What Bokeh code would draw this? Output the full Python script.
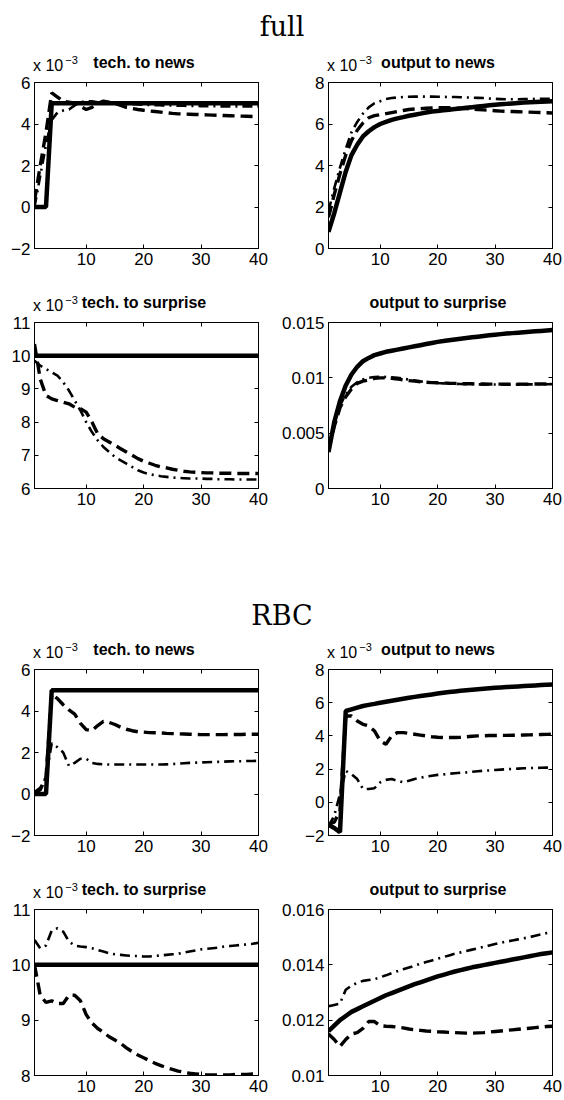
import numpy as np
from bokeh.plotting import figure
from bokeh.models import Range1d, FixedTicker, LinearAxis, CustomJSTickFormatter, Div
from bokeh.layouts import column, row
from bokeh.embed import file_html
from bokeh.resources import INLINE

steps = list(range(1, 41))
xticks = [10, 20, 30, 40]

# ---------------- full model ----------------
full_tech_news_solid = [0, 0, 0, 5, 5, 5, 5, 5, 5, 5, 5, 5, 5, 5, 5, 5, 5, 5, 5, 5,
                        5, 5, 5, 5, 5, 5, 5, 5, 5, 5, 5, 5, 5, 5, 5, 5, 5, 5, 5, 5]
full_tech_news_dash = [0.3, 2.0, 3.6, 5.5, 5.3, 5.1, 5.05, 5.0, 4.85, 4.7, 4.8, 5.0, 5.1, 5.05, 5.0, 4.9, 4.8, 4.75, 4.7, 4.66,
                       4.63, 4.6, 4.57, 4.54, 4.51, 4.49, 4.48, 4.47, 4.46, 4.45, 4.44, 4.43, 4.42, 4.41, 4.4, 4.39, 4.38, 4.37, 4.36, 4.35]
full_tech_news_dashdot = [0.0, 1.5, 3.0, 4.2, 4.55, 4.65, 4.7, 4.9, 5.05, 5.1, 5.1, 5.05, 5.05, 5.0, 5.0, 4.98, 4.96, 4.95, 4.94, 4.93,
                          4.92, 4.91, 4.9, 4.9, 4.89, 4.88, 4.88, 4.87, 4.87, 4.86, 4.86, 4.86, 4.85, 4.85, 4.85, 4.85, 4.85, 4.85, 4.85, 4.85]

full_out_news_solid = [0.8, 1.7, 2.7, 3.7, 4.5, 5.0, 5.4, 5.65, 5.85, 6.0, 6.1, 6.2, 6.27, 6.33, 6.4, 6.45, 6.5, 6.55, 6.6, 6.63,
                       6.66, 6.69, 6.72, 6.75, 6.78, 6.81, 6.84, 6.87, 6.9, 6.93, 6.95, 6.97, 6.99, 7.01, 7.03, 7.05, 7.06, 7.07, 7.08, 7.1]
full_out_news_dash = [1.5, 2.6, 3.6, 4.5, 5.2, 5.7, 6.05, 6.3, 6.4, 6.45, 6.5, 6.55, 6.6, 6.65, 6.7, 6.72, 6.74, 6.76, 6.77, 6.78,
                      6.78, 6.78, 6.77, 6.76, 6.74, 6.72, 6.7, 6.68, 6.66, 6.64, 6.62, 6.61, 6.6, 6.59, 6.58, 6.57, 6.56, 6.55, 6.54, 6.53]
full_out_news_dashdot = [1.8, 2.9, 3.9, 4.8, 5.6, 6.1, 6.5, 6.8, 7.0, 7.1, 7.2, 7.25, 7.28, 7.3, 7.31, 7.32, 7.32, 7.32, 7.32, 7.31,
                         7.31, 7.3, 7.3, 7.29, 7.28, 7.27, 7.26, 7.25, 7.23, 7.21, 7.2, 7.19, 7.19, 7.19, 7.2, 7.2, 7.21, 7.21, 7.22, 7.22]

full_tech_surp_solid = [10, 10, 10, 10, 10, 10, 10, 10, 10, 10, 10, 10, 10, 10, 10, 10, 10, 10, 10, 10,
                        10, 10, 10, 10, 10, 10, 10, 10, 10, 10, 10, 10, 10, 10, 10, 10, 10, 10, 10, 10]
full_tech_surp_dash = [10.35, 9.3, 8.8, 8.7, 8.65, 8.6, 8.55, 8.45, 8.4, 8.3, 8.0, 7.65, 7.5, 7.4, 7.3, 7.2, 7.1, 7.0, 6.9, 6.82,
                       6.76, 6.7, 6.65, 6.62, 6.58, 6.55, 6.52, 6.5, 6.49, 6.48, 6.47, 6.47, 6.46, 6.46, 6.46, 6.45, 6.45, 6.45, 6.45, 6.45]
full_tech_surp_dashdot = [9.85, 9.7, 9.6, 9.5, 9.4, 9.2, 8.95, 8.65, 8.35, 8.0, 7.7, 7.45, 7.25, 7.1, 6.95, 6.85, 6.75, 6.65, 6.55, 6.48,
                          6.43, 6.4, 6.37, 6.35, 6.33, 6.32, 6.31, 6.3, 6.3, 6.3, 6.29, 6.29, 6.28, 6.28, 6.28, 6.27, 6.27, 6.27, 6.27, 6.27]

# output to surprise, read in units of 1e-3
full_out_surp_solid = [3.3, 6.0, 7.9, 9.3, 10.3, 11.0, 11.5, 11.8, 12.05, 12.2, 12.35, 12.45, 12.55, 12.65, 12.75, 12.85, 12.95, 13.05, 13.15, 13.25,
                       13.32, 13.4, 13.47, 13.54, 13.6, 13.66, 13.72, 13.78, 13.84, 13.9, 13.95, 14.0, 14.04, 14.08, 14.12, 14.16, 14.2, 14.24, 14.28, 14.32]
full_out_surp_dash = [3.5, 5.6, 7.3, 8.3, 9.0, 9.5, 9.7, 9.8, 9.95, 10.0, 10.0, 9.95, 9.9, 9.8, 9.75, 9.7, 9.65, 9.6, 9.57, 9.55,
                      9.53, 9.51, 9.5, 9.48, 9.47, 9.46, 9.45, 9.44, 9.43, 9.43, 9.43, 9.42, 9.42, 9.42, 9.43, 9.43, 9.44, 9.44, 9.45, 9.45]
full_out_surp_dashdot = [3.5, 5.8, 7.5, 8.5, 9.2, 9.6, 9.85, 10.0, 10.08, 10.1, 10.08, 10.04, 10.0, 9.92, 9.84, 9.76, 9.68, 9.62, 9.57, 9.53,
                         9.5, 9.48, 9.46, 9.44, 9.43, 9.42, 9.41, 9.4, 9.4, 9.4, 9.4, 9.4, 9.4, 9.4, 9.4, 9.41, 9.41, 9.42, 9.42, 9.43]

# ---------------- RBC model ----------------
rbc_tech_news_solid = [0, 0, 0, 5, 5, 5, 5, 5, 5, 5, 5, 5, 5, 5, 5, 5, 5, 5, 5, 5,
                       5, 5, 5, 5, 5, 5, 5, 5, 5, 5, 5, 5, 5, 5, 5, 5, 5, 5, 5, 5]
rbc_tech_news_dash = [0.05, 0.2, 0.8, 4.8, 4.6, 4.3, 4.05, 3.85, 3.4, 3.1, 3.05, 3.3, 3.5, 3.45, 3.35, 3.22, 3.12, 3.05, 3.0, 2.98,
                      2.96, 2.95, 2.94, 2.92, 2.91, 2.9, 2.89, 2.88, 2.87, 2.86, 2.86, 2.86, 2.86, 2.86, 2.87, 2.87, 2.87, 2.88, 2.88, 2.88]
rbc_tech_news_dashdot = [0.1, 0.3, 0.8, 2.45, 2.25, 2.0, 1.35, 1.5, 1.7, 1.7, 1.5, 1.45, 1.43, 1.42, 1.42, 1.42, 1.42, 1.42, 1.42, 1.42,
                         1.42, 1.42, 1.42, 1.43, 1.44, 1.46, 1.48, 1.5, 1.51, 1.52, 1.53, 1.54, 1.55, 1.56, 1.57, 1.58, 1.58, 1.59, 1.59, 1.6]

rbc_out_news_solid = [-1.35, -1.55, -1.8, 5.5, 5.6, 5.7, 5.8, 5.87, 5.93, 6.0, 6.06, 6.12, 6.18, 6.24, 6.3, 6.35, 6.4, 6.45, 6.5, 6.55,
                      6.6, 6.64, 6.68, 6.72, 6.75, 6.78, 6.81, 6.84, 6.87, 6.9, 6.92, 6.94, 6.96, 6.98, 7.0, 7.02, 7.04, 7.06, 7.08, 7.1]
rbc_out_news_dash = [-1.3, -1.2, -0.5, 5.2, 5.2, 4.9, 4.7, 4.6, 4.3, 3.7, 3.5, 4.0, 4.2, 4.2, 4.15, 4.1, 4.05, 4.0, 3.95, 3.92,
                     3.9, 3.9, 3.9, 3.92, 3.95, 3.98, 4.0, 4.01, 4.02, 4.02, 4.03, 4.03, 4.04, 4.04, 4.05, 4.06, 4.07, 4.08, 4.09, 4.1]
rbc_out_news_dashdot = [-1.45, -0.8, 0.5, 1.9, 1.7, 1.4, 0.8, 0.8, 0.85, 1.2, 1.35, 1.4, 1.3, 1.2, 1.3, 1.4, 1.48, 1.55, 1.6, 1.65,
                        1.68, 1.72, 1.75, 1.78, 1.8, 1.84, 1.87, 1.9, 1.92, 1.95, 1.97, 1.99, 2.01, 2.03, 2.05, 2.06, 2.07, 2.08, 2.09, 2.1]

rbc_tech_surp_solid = [10, 10, 10, 10, 10, 10, 10, 10, 10, 10, 10, 10, 10, 10, 10, 10, 10, 10, 10, 10,
                       10, 10, 10, 10, 10, 10, 10, 10, 10, 10, 10, 10, 10, 10, 10, 10, 10, 10, 10, 10]
rbc_tech_surp_dash = [10.0, 9.45, 9.32, 9.35, 9.3, 9.3, 9.45, 9.45, 9.35, 9.1, 8.95, 8.85, 8.78, 8.7, 8.64, 8.58, 8.5, 8.43, 8.37, 8.32,
                      8.27, 8.22, 8.18, 8.14, 8.11, 8.08, 8.06, 8.04, 8.03, 8.02, 8.01, 8.01, 8.01, 8.01, 8.01, 8.02, 8.02, 8.02, 8.03, 8.03]
rbc_tech_surp_dashdot = [10.45, 10.3, 10.35, 10.62, 10.66, 10.6, 10.42, 10.35, 10.33, 10.32, 10.3, 10.27, 10.24, 10.21, 10.19, 10.18, 10.17, 10.16, 10.16, 10.15,
                         10.15, 10.16, 10.17, 10.18, 10.19, 10.2, 10.22, 10.24, 10.26, 10.28, 10.29, 10.3, 10.31, 10.33, 10.34, 10.35, 10.36, 10.37, 10.38, 10.4]

rbc_out_surp_solid = [11.6, 11.8, 12.0, 12.15, 12.3, 12.4, 12.5, 12.6, 12.7, 12.8, 12.9, 12.98, 13.06, 13.14, 13.22, 13.3, 13.37, 13.44, 13.51, 13.58,
                      13.64, 13.7, 13.76, 13.81, 13.86, 13.91, 13.95, 13.99, 14.03, 14.07, 14.11, 14.15, 14.19, 14.23, 14.27, 14.31, 14.35, 14.39, 14.42, 14.45]
rbc_out_surp_dash = [11.5, 11.3, 11.05, 11.3, 11.5, 11.55, 11.7, 11.95, 11.95, 11.8, 11.78, 11.77, 11.75, 11.72, 11.68, 11.65, 11.63, 11.61, 11.6, 11.58,
                     11.57, 11.56, 11.55, 11.54, 11.53, 11.53, 11.54, 11.55, 11.57, 11.59, 11.61, 11.63, 11.65, 11.67, 11.69, 11.71, 11.73, 11.75, 11.77, 11.78]
rbc_out_surp_dashdot = [12.5, 12.55, 12.6, 13.1, 13.25, 13.35, 13.42, 13.45, 13.48, 13.55, 13.62, 13.7, 13.77, 13.84, 13.9, 13.97, 14.04, 14.1, 14.16, 14.22,
                        14.28, 14.34, 14.4, 14.45, 14.5, 14.55, 14.6, 14.65, 14.7, 14.75, 14.8, 14.84, 14.88, 14.92, 14.96, 15.0, 15.05, 15.1, 15.15, 15.2]

SANS = "Liberation Sans"
FRAME_W = 224
FRAME_H = 166
HEAD_H = 21
TOP = 11

fmt_code = """
const v = Math.round(tick * 1e6) / 1e6;
return v < 0 ? "\\u2212" + String(-v) : String(v);
"""


def make_panel(title, solid, dash, dashdot, y0, y1, yticks, left_col, bottom, scale=1.0, exponent=True):
    L = 34 if left_col else 59
    R = 11 if left_col else 12
    W = L + FRAME_W + R
    H = TOP + FRAME_H + bottom
    p = figure(width=W, height=H, x_range=Range1d(1, 40), y_range=Range1d(y0, y1),
               output_backend="svg", toolbar_location=None,
               min_border_left=L, min_border_right=R, min_border_top=TOP, min_border_bottom=bottom)
    p.xgrid.visible = False
    p.ygrid.visible = False
    p.outline_line_color = "black"
    p.outline_line_width = 1
    p.background_fill_color = "white"
    p.border_fill_color = "white"

    p.xaxis.ticker = FixedTicker(ticks=xticks)
    p.yaxis.ticker = FixedTicker(ticks=yticks)
    for ax in (p.xaxis[0], p.yaxis[0]):
        ax.formatter = CustomJSTickFormatter(code=fmt_code)
        ax.major_tick_in = 4
        ax.major_tick_out = 0
        ax.minor_tick_line_color = None
        ax.axis_line_color = "black"
        ax.major_tick_line_color = "black"
        ax.major_label_text_font = SANS
        ax.major_label_text_font_size = "17px"
        ax.major_label_text_color = "black"
        ax.major_label_standoff = 4

    # mirrored ticks (box on)
    r_ax = LinearAxis(ticker=FixedTicker(ticks=yticks), formatter=CustomJSTickFormatter(code="return '';"),
                      major_tick_in=4, major_tick_out=0, minor_tick_line_color=None,
                      major_label_standoff=0, major_label_text_font_size="1px")
    t_ax = LinearAxis(ticker=FixedTicker(ticks=xticks), formatter=CustomJSTickFormatter(code="return '';"),
                      major_tick_in=4, major_tick_out=0, minor_tick_line_color=None,
                      major_label_standoff=0, major_label_text_font_size="1px")
    p.add_layout(r_ax, "right")
    p.add_layout(t_ax, "above")

    ys = [np.array(solid) * scale, np.array(dash) * scale, np.array(dashdot) * scale]
    p.line(steps, ys[2], line_color="black", line_width=2.6, line_dash="10 5 2 5")
    p.line(steps, ys[1], line_color="black", line_width=3.4, line_dash="12 6")
    p.line(steps, ys[0], line_color="black", line_width=4.5)

    exp_html = ""
    if exponent:
        exp_html = ('<div style="position:absolute; left:%dpx; top:8px; font-size:16px; line-height:15px; white-space:nowrap;">'
                    'x 10<span style="position:relative; top:-7px; font-size:11px; margin-left:2px;">\u22123</span></div>' % (L - 1))
    head = Div(text=('<div style="position:relative; width:%dpx; height:%dpx; font-family:\'Liberation Sans\'; color:black;">'
                     '<div style="position:absolute; left:%dpx; width:%dpx; top:5px; text-align:center; font-weight:bold; '
                     'font-size:16px; line-height:16px; white-space:nowrap;">%s</div>%s</div>')
               % (W, HEAD_H, L - 2, FRAME_W, title, exp_html),
               width=W, height=HEAD_H, margin=(0, 0, 0, 0))
    return column(head, p, spacing=0)


c1 = make_panel("tech. to news", full_tech_news_solid, full_tech_news_dash, full_tech_news_dashdot,
                -2, 6, [-2, 0, 2, 4, 6], True, 42)
c2 = make_panel("output to news", full_out_news_solid, full_out_news_dash, full_out_news_dashdot,
                0, 8, [0, 2, 4, 6, 8], False, 42)
c3 = make_panel("tech. to surprise", full_tech_surp_solid, full_tech_surp_dash, full_tech_surp_dashdot,
                6, 11, [6, 7, 8, 9, 10, 11], True, 40)
c4 = make_panel("output to surprise", full_out_surp_solid, full_out_surp_dash, full_out_surp_dashdot,
                0, 0.015, [0, 0.005, 0.01, 0.015], False, 40, scale=1e-3, exponent=False)

c5 = make_panel("tech. to news", rbc_tech_news_solid, rbc_tech_news_dash, rbc_tech_news_dashdot,
                -2, 6, [-2, 0, 2, 4, 6], True, 42)
c6 = make_panel("output to news", rbc_out_news_solid, rbc_out_news_dash, rbc_out_news_dashdot,
                -2, 8, [-2, 0, 2, 4, 6, 8], False, 42)
c7 = make_panel("tech. to surprise", rbc_tech_surp_solid, rbc_tech_surp_dash, rbc_tech_surp_dashdot,
                8, 11, [8, 9, 10, 11], True, 24)
c8 = make_panel("output to surprise", rbc_out_surp_solid, rbc_out_surp_dash, rbc_out_surp_dashdot,
                0.01, 0.016, [0.01, 0.012, 0.014, 0.016], False, 24, scale=1e-3, exponent=False)

head_style = "font-family:'DejaVu Serif'; font-size:27px; line-height:27px; text-align:center; color:black; width:564px;"
h1 = Div(text='<div style="%s padding-top:13px">full</div>' % head_style, width=564, height=50, margin=(0, 0, 0, 0))
h2 = Div(text='<div style="%s padding-top:74px">RBC</div>' % head_style, width=564, height=109, margin=(0, 0, 0, 0))

layout = column(h1, row(c1, c2, spacing=0), row(c3, c4, spacing=0), h2,
                row(c5, c6, spacing=0), row(c7, c8, spacing=0), spacing=0)

open("out.html", "w").write(file_html(layout, INLINE))
